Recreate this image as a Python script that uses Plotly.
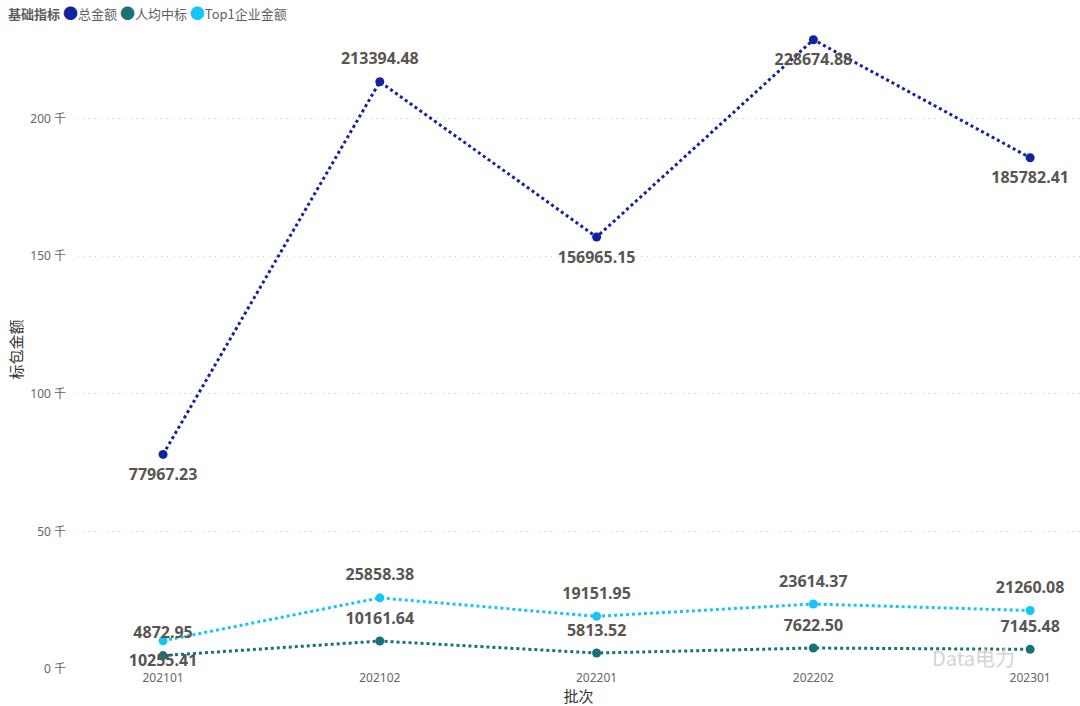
import plotly.graph_objects as go

batches = ["202101", "202102", "202201", "202202", "202301"]
total_amount = [77967.23, 213394.48, 156965.15, 228674.88, 185782.41]
per_capita = [4872.95, 10161.64, 5813.52, 7622.50, 7145.48]
top1_amount = [10255.41, 25858.38, 19151.95, 23614.37, 21260.08]

y_ticks = [0, 50000, 100000, 150000, 200000]
y_tick_text = ["0 千", "50 千", "100 千", "150 千", "200 千"]

series = [
    ("总金额", total_amount, "#12239E",
     ["bottom center", "top center", "bottom center", "bottom center", "bottom center"]),
    ("人均中标", per_capita, "#197278",
     ["top center"] * 5),
    ("Top1企业金额", top1_amount, "#15C6F4",
     ["bottom center", "top center", "top center", "top center", "top center"]),
]

xs = list(range(len(batches)))
fig = go.Figure()

for name, vals, color, pos in series:
    fig.add_trace(go.Scatter(
        x=xs, y=vals, mode="lines+markers", name=name,
        line=dict(color=color, width=3, dash="dot"),
        marker=dict(size=9, color=color),
        showlegend=False, cliponaxis=False,
    ))
for name, vals, color, pos in series:
    # data labels, pushed away from the point by an invisible bigger marker
    fig.add_trace(go.Scatter(
        x=xs, y=vals, mode="markers+text", name=name,
        text=[f"{v:.2f}" for v in vals], textposition=pos,
        textfont=dict(size=16, color="#595552", family="Noto Sans, Noto Sans CJK SC", weight="bold"),
        marker=dict(size=20, opacity=0),
        showlegend=False, cliponaxis=False, hoverinfo="skip",
    ))

legend_txt = "<b>基础指标</b> " + " ".join(
    f"<span style='color:{c};font-size:15px'>●</span>{n}" for n, _, c, _ in series)
fig.add_annotation(
    x=-0.071, y=1.047, xref="paper", yref="paper", text=legend_txt, showarrow=False,
    xanchor="left", yanchor="top",
    font=dict(size=13, color="#605E5C", family="Noto Sans CJK SC"),
)

fig.add_annotation(
    x=3.74, y=4000, xref="x", yref="y", text="Data电力",
    showarrow=False, font=dict(size=20, color="#d4d4d4", family="Noto Sans CJK SC"),
    xanchor="center", yanchor="middle",
)

fig.update_xaxes(
    tickvals=xs, ticktext=batches, range=[-0.397, 4.23],
    showgrid=False, zeroline=False, showline=False, automargin=False,
    tickfont=dict(size=12, color="#666666"),
    title=dict(text="批次", font=dict(size=15, color="#333333"), standoff=0),
)
fig.update_yaxes(
    range=[0, 232200], tickvals=y_ticks, ticktext=y_tick_text,
    showgrid=True, gridcolor="#c8c8c8", griddash="1px,5px", gridwidth=1,
    zeroline=False, showline=False, automargin=False,
    tickfont=dict(size=12, color="#666666"), ticklabelstandoff=10,
    title=dict(text="标包金额", font=dict(size=15, color="#333333"), standoff=4),
)
fig.update_layout(
    width=1080, height=706,
    margin=dict(l=77, r=0, t=30, b=37),
    plot_bgcolor="white", paper_bgcolor="white",
    font=dict(family="Noto Sans, Noto Sans CJK SC", color="#605E5C"),
    showlegend=False,
)

fig.write_html("out.html", config={"displayModeBar": False},
               post_script="document.body.style.margin='0';")
